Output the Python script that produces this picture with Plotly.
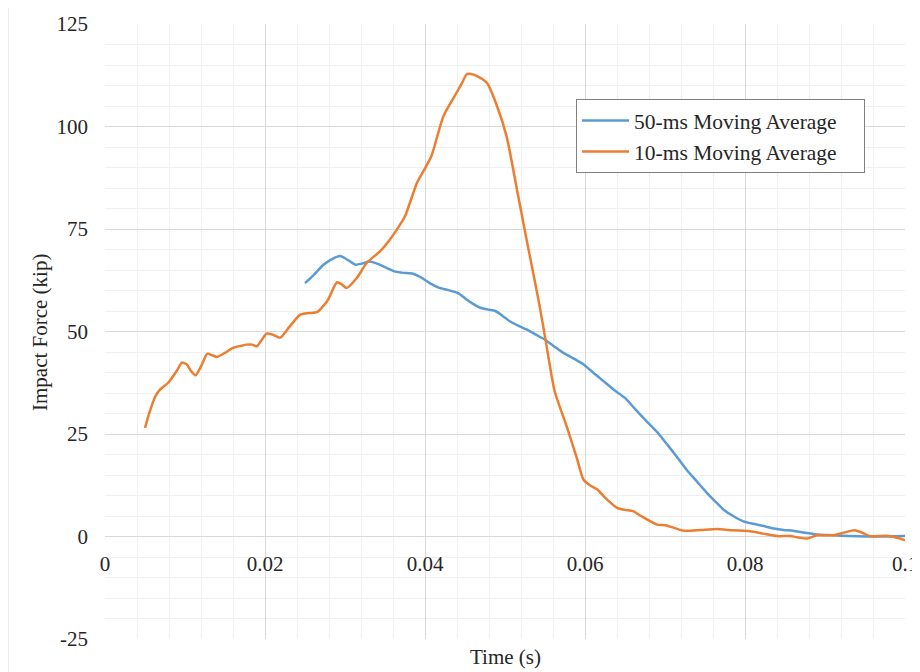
import plotly.graph_objects as go

# ---- data ----
t_50ms = [0.0250, 0.0262, 0.0273, 0.0285, 0.0294, 0.0303, 0.0313, 0.0322, 0.0331, 0.0341,
          0.0352, 0.0363, 0.0373, 0.0385, 0.0395, 0.0406, 0.0417, 0.0429, 0.0442, 0.0452,
          0.0461, 0.0469, 0.0480, 0.0488, 0.0497, 0.0506, 0.0517, 0.0527, 0.0538, 0.0550,
          0.0562, 0.0573, 0.0586, 0.0598, 0.0610, 0.0623, 0.0636, 0.0650, 0.0663, 0.0677,
          0.0690, 0.0702, 0.0715, 0.0727, 0.0740, 0.0752, 0.0763, 0.0773, 0.0785, 0.0798,
          0.0810, 0.0822, 0.0834, 0.0848, 0.0860, 0.0875, 0.0890, 0.0910, 0.0930, 0.0952,
          0.0975, 0.1000]
f_50ms = [61.8, 64.0, 66.3, 67.8, 68.4, 67.5, 66.3, 66.6, 67.1, 66.5,
          65.5, 64.6, 64.3, 64.1, 63.2, 61.8, 60.7, 60.1, 59.3, 57.8,
          56.6, 55.8, 55.3, 55.0, 53.8, 52.5, 51.4, 50.5, 49.3, 48.0,
          46.3, 44.8, 43.4, 42.0, 40.0, 37.9, 35.8, 33.8, 31.0, 28.1,
          25.5, 22.6, 19.4, 16.3, 13.4, 10.7, 8.5, 6.6, 5.0, 3.7,
          3.1, 2.6, 2.0, 1.6, 1.4, 0.9, 0.5, 0.3, 0.1, 0.0,
          0.0, 0.1]

t_10ms = [0.0050, 0.0056, 0.0063, 0.0069, 0.0079, 0.0090, 0.0096, 0.0102, 0.0107, 0.0113,
          0.0120, 0.0128, 0.0134, 0.0140, 0.0150, 0.0160, 0.0170, 0.0177, 0.0184, 0.0190,
          0.0196, 0.0202, 0.0210, 0.0219, 0.0230, 0.0244, 0.0255, 0.0265, 0.0278, 0.0290,
          0.0296, 0.0302, 0.0315, 0.0327, 0.0344, 0.0356, 0.0365, 0.0375, 0.0390, 0.0398,
          0.0408, 0.0423, 0.0437, 0.0446, 0.0452, 0.0458, 0.0465, 0.0472, 0.0478, 0.0490,
          0.0502, 0.0515, 0.0527, 0.0535, 0.0543, 0.0551, 0.0562, 0.0577, 0.0590, 0.0598,
          0.0606, 0.0615, 0.0625, 0.0640, 0.0650, 0.0660, 0.0670, 0.0690, 0.0702, 0.0723,
          0.0745, 0.0765, 0.0785, 0.0806, 0.0823, 0.0840, 0.0856, 0.0877, 0.0890, 0.0910,
          0.0925, 0.0937, 0.0948, 0.0956, 0.0977, 0.0990, 0.1000]
f_10ms = [26.5, 30.5, 34.2, 35.9, 37.5, 40.5, 42.4, 42.0, 40.5, 39.3,
          41.5, 44.6, 44.2, 43.8, 44.8, 46.0, 46.5, 46.8, 46.8, 46.4,
          48.0, 49.5, 49.2, 48.5, 51.0, 54.1, 54.5, 54.7, 57.5, 62.0,
          61.5, 60.6, 63.1, 66.7, 69.6, 72.4, 74.9, 78.1, 86.3, 89.1,
          92.8, 102.5, 107.4, 110.5, 112.7, 112.8, 112.3, 111.5, 110.5, 105.0,
          97.6, 84.6, 72.4, 64.5, 56.5, 47.6, 35.5, 26.9, 19.0, 13.9,
          12.5, 11.5, 9.5, 7.0, 6.5, 6.2, 5.0, 2.9, 2.7, 1.4,
          1.6, 1.8, 1.5, 1.3, 0.7, 0.1, 0.1, -0.5, 0.3, 0.3,
          1.0, 1.5, 0.8, 0.1, 0.2, -0.3, -0.9]

x_ticks = [0, 0.02, 0.04, 0.06, 0.08, 0.1]
x_tick_labels = ["0", "0.02", "0.04", "0.06", "0.08", "0.1"]
y_ticks = [-25, 0, 25, 50, 75, 100, 125]
y_tick_labels = ["-25", "0", "25", "50", "75", "100", "125"]

series_names = ["50-ms Moving Average", "10-ms Moving Average"]
series_colors = ["#5B9BD5", "#ED7D31"]

FONT = "Liberation Serif"
TXT = "#262626"
PAD = "\u00a0" * 4  # widen legend box like the reference

fig = go.Figure()
fig.add_trace(go.Scatter(x=t_50ms, y=f_50ms, mode="lines", name=series_names[0] + PAD,
                         line=dict(color=series_colors[0], width=2.5, shape="spline", smoothing=0.6)))
fig.add_trace(go.Scatter(x=t_10ms, y=f_10ms, mode="lines", name=series_names[1] + PAD,
                         line=dict(color=series_colors[1], width=2.5, shape="spline", smoothing=0.6)))

# page has an 8px body margin -> compensate in margins
fig.update_layout(
    width=920, height=672,
    margin=dict(l=97, r=23, t=16, b=41, autoexpand=False),
    paper_bgcolor="white", plot_bgcolor="white",
    font=dict(family=FONT, size=21, color=TXT),
    showlegend=True,
    legend=dict(x=(576 - 105) / 800, y=(639 - 99) / 615, xanchor="left", yanchor="top",
                bgcolor="white", bordercolor="#808080", borderwidth=1,
                font=dict(family=FONT, size=21.5, color=TXT),
                itemwidth=47, tracegroupgap=0),
    xaxis=dict(range=[0, 0.1], tickvals=x_ticks, ticktext=x_tick_labels,
               anchor="free", position=1/6, showline=False, zeroline=False,
               showgrid=True, gridcolor="#d9d9d9", gridwidth=1,
               minor=dict(dtick=0.004, showgrid=True, gridcolor="#f0f0f0", gridwidth=1),
               ticks="", ticklabelstandoff=12,
               tickfont=dict(family=FONT, size=21, color=TXT)),
    yaxis=dict(range=[-25, 125], tickvals=y_ticks, ticktext=y_tick_labels,
               showline=False, zeroline=True, zerolinecolor="#d9d9d9", zerolinewidth=1,
               showgrid=True, gridcolor="#d9d9d9", gridwidth=1,
               minor=dict(dtick=5, showgrid=True, gridcolor="#f0f0f0", gridwidth=1),
               ticks="", ticklabelstandoff=16,
               tickfont=dict(family=FONT, size=21, color=TXT)),
)

# axis titles as annotations
fig.add_annotation(text="Time (s)", xref="paper", yref="paper", x=0.5, y=(639 - 657) / 615,
                   xanchor="center", yanchor="middle", showarrow=False,
                   font=dict(family=FONT, size=21, color=TXT))
fig.add_annotation(text="Impact Force (kip)", xref="paper", yref="paper",
                   x=(40 - 105) / 800, y=(639 - 333) / 615, textangle=-90,
                   xanchor="center", yanchor="middle", showarrow=False,
                   font=dict(family=FONT, size=21, color=TXT))

# outer chart frame
fig.add_shape(type="rect", xref="paper", yref="paper",
              x0=(8 - 105) / 800, x1=(930 - 105) / 800,
              y0=(639 - 690) / 615, y1=(639 - 5) / 615,
              line=dict(color="#d9d9d9", width=1), fillcolor="rgba(0,0,0,0)", layer="below")

fig.write_html("out.html")
